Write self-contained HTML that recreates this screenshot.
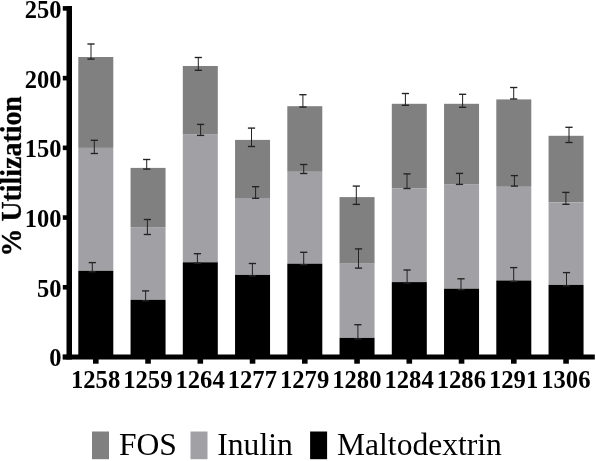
<!DOCTYPE html><html><head><meta charset="utf-8"><style>html,body{margin:0;padding:0;background:#fff;}svg{display:block;}text{font-family:"Liberation Serif","Times New Roman",serif;}</style></head><body>
<svg width="596" height="461" viewBox="0 0 596 461">
<rect width="596" height="461" fill="#fff"/>
<rect x="78.30" y="57.0" width="35.0" height="90.90" fill="#808080"/>
<rect x="78.30" y="147.9" width="35.0" height="122.90" fill="#a1a0a5"/>
<rect x="78.30" y="270.8" width="35.0" height="84.70" fill="#000000"/>
<rect x="130.55" y="167.9" width="35.0" height="59.20" fill="#808080"/>
<rect x="130.55" y="227.1" width="35.0" height="72.70" fill="#a1a0a5"/>
<rect x="130.55" y="299.8" width="35.0" height="55.70" fill="#000000"/>
<rect x="182.80" y="66.0" width="35.0" height="68.10" fill="#808080"/>
<rect x="182.80" y="134.1" width="35.0" height="128.20" fill="#a1a0a5"/>
<rect x="182.80" y="262.3" width="35.0" height="93.20" fill="#000000"/>
<rect x="235.05" y="139.9" width="35.0" height="58.10" fill="#808080"/>
<rect x="235.05" y="198.0" width="35.0" height="76.90" fill="#a1a0a5"/>
<rect x="235.05" y="274.9" width="35.0" height="80.60" fill="#000000"/>
<rect x="287.30" y="106.2" width="35.0" height="65.60" fill="#808080"/>
<rect x="287.30" y="171.8" width="35.0" height="91.90" fill="#a1a0a5"/>
<rect x="287.30" y="263.7" width="35.0" height="91.80" fill="#000000"/>
<rect x="339.55" y="197.1" width="35.0" height="66.60" fill="#808080"/>
<rect x="339.55" y="263.7" width="35.0" height="74.20" fill="#a1a0a5"/>
<rect x="339.55" y="337.9" width="35.0" height="17.60" fill="#000000"/>
<rect x="391.80" y="103.8" width="35.0" height="84.40" fill="#808080"/>
<rect x="391.80" y="188.2" width="35.0" height="93.90" fill="#a1a0a5"/>
<rect x="391.80" y="282.1" width="35.0" height="73.40" fill="#000000"/>
<rect x="444.05" y="103.8" width="35.0" height="80.30" fill="#808080"/>
<rect x="444.05" y="184.1" width="35.0" height="104.60" fill="#a1a0a5"/>
<rect x="444.05" y="288.7" width="35.0" height="66.80" fill="#000000"/>
<rect x="496.30" y="99.4" width="35.0" height="87.40" fill="#808080"/>
<rect x="496.30" y="186.8" width="35.0" height="93.70" fill="#a1a0a5"/>
<rect x="496.30" y="280.5" width="35.0" height="75.00" fill="#000000"/>
<rect x="548.55" y="135.8" width="35.0" height="66.50" fill="#808080"/>
<rect x="548.55" y="202.3" width="35.0" height="82.60" fill="#a1a0a5"/>
<rect x="548.55" y="284.9" width="35.0" height="70.60" fill="#000000"/>
<rect x="90.50" y="44.00" width="1.0" height="15.10" fill="#222222"/><rect x="87.40" y="43.33" width="7.2" height="1.35" fill="#222222"/><rect x="87.40" y="58.43" width="7.2" height="1.35" fill="#222222"/>
<rect x="93.80" y="140.30" width="1.0" height="13.20" fill="#222222"/><rect x="90.70" y="139.62" width="7.2" height="1.35" fill="#222222"/><rect x="90.70" y="152.82" width="7.2" height="1.35" fill="#222222"/>
<rect x="91.80" y="262.60" width="1.0" height="9.18" fill="#222222"/><rect x="88.70" y="261.93" width="7.2" height="1.35" fill="#222222"/><rect x="88.70" y="271.10" width="7.2" height="1.35" fill="#222222"/>
<rect x="146.20" y="159.50" width="1.0" height="9.60" fill="#222222"/><rect x="143.10" y="158.82" width="7.2" height="1.35" fill="#222222"/><rect x="143.10" y="168.42" width="7.2" height="1.35" fill="#222222"/>
<rect x="146.90" y="219.50" width="1.0" height="15.00" fill="#222222"/><rect x="143.80" y="218.82" width="7.2" height="1.35" fill="#222222"/><rect x="143.80" y="233.82" width="7.2" height="1.35" fill="#222222"/>
<rect x="145.10" y="290.90" width="1.0" height="9.88" fill="#222222"/><rect x="142.00" y="290.22" width="7.2" height="1.35" fill="#222222"/><rect x="142.00" y="300.10" width="7.2" height="1.35" fill="#222222"/>
<rect x="197.80" y="57.50" width="1.0" height="12.80" fill="#222222"/><rect x="194.70" y="56.83" width="7.2" height="1.35" fill="#222222"/><rect x="194.70" y="69.62" width="7.2" height="1.35" fill="#222222"/>
<rect x="200.10" y="124.40" width="1.0" height="11.00" fill="#222222"/><rect x="197.00" y="123.73" width="7.2" height="1.35" fill="#222222"/><rect x="197.00" y="134.72" width="7.2" height="1.35" fill="#222222"/>
<rect x="196.90" y="253.70" width="1.0" height="9.58" fill="#222222"/><rect x="193.80" y="253.02" width="7.2" height="1.35" fill="#222222"/><rect x="193.80" y="262.60" width="7.2" height="1.35" fill="#222222"/>
<rect x="251.00" y="128.10" width="1.0" height="18.40" fill="#222222"/><rect x="247.90" y="127.42" width="7.2" height="1.35" fill="#222222"/><rect x="247.90" y="145.82" width="7.2" height="1.35" fill="#222222"/>
<rect x="255.10" y="186.70" width="1.0" height="11.60" fill="#222222"/><rect x="252.00" y="186.02" width="7.2" height="1.35" fill="#222222"/><rect x="252.00" y="197.62" width="7.2" height="1.35" fill="#222222"/>
<rect x="251.90" y="263.50" width="1.0" height="12.38" fill="#222222"/><rect x="248.80" y="262.82" width="7.2" height="1.35" fill="#222222"/><rect x="248.80" y="275.20" width="7.2" height="1.35" fill="#222222"/>
<rect x="302.40" y="94.70" width="1.0" height="12.40" fill="#222222"/><rect x="299.30" y="94.03" width="7.2" height="1.35" fill="#222222"/><rect x="299.30" y="106.42" width="7.2" height="1.35" fill="#222222"/>
<rect x="303.20" y="164.50" width="1.0" height="9.00" fill="#222222"/><rect x="300.10" y="163.82" width="7.2" height="1.35" fill="#222222"/><rect x="300.10" y="172.82" width="7.2" height="1.35" fill="#222222"/>
<rect x="303.20" y="252.30" width="1.0" height="12.38" fill="#222222"/><rect x="300.10" y="251.62" width="7.2" height="1.35" fill="#222222"/><rect x="300.10" y="264.00" width="7.2" height="1.35" fill="#222222"/>
<rect x="355.80" y="186.10" width="1.0" height="18.30" fill="#222222"/><rect x="352.70" y="185.42" width="7.2" height="1.35" fill="#222222"/><rect x="352.70" y="203.72" width="7.2" height="1.35" fill="#222222"/>
<rect x="358.00" y="248.90" width="1.0" height="19.20" fill="#222222"/><rect x="354.90" y="248.22" width="7.2" height="1.35" fill="#222222"/><rect x="354.90" y="267.43" width="7.2" height="1.35" fill="#222222"/>
<rect x="357.40" y="324.70" width="1.0" height="14.18" fill="#222222"/><rect x="354.30" y="324.02" width="7.2" height="1.35" fill="#222222"/><rect x="354.30" y="338.20" width="7.2" height="1.35" fill="#222222"/>
<rect x="404.90" y="93.50" width="1.0" height="11.80" fill="#222222"/><rect x="401.80" y="92.83" width="7.2" height="1.35" fill="#222222"/><rect x="401.80" y="104.62" width="7.2" height="1.35" fill="#222222"/>
<rect x="406.50" y="173.90" width="1.0" height="14.60" fill="#222222"/><rect x="403.40" y="173.22" width="7.2" height="1.35" fill="#222222"/><rect x="403.40" y="187.82" width="7.2" height="1.35" fill="#222222"/>
<rect x="406.60" y="270.00" width="1.0" height="13.08" fill="#222222"/><rect x="403.50" y="269.32" width="7.2" height="1.35" fill="#222222"/><rect x="403.50" y="282.40" width="7.2" height="1.35" fill="#222222"/>
<rect x="462.10" y="94.30" width="1.0" height="13.00" fill="#222222"/><rect x="459.00" y="93.62" width="7.2" height="1.35" fill="#222222"/><rect x="459.00" y="106.62" width="7.2" height="1.35" fill="#222222"/>
<rect x="459.00" y="173.40" width="1.0" height="11.00" fill="#222222"/><rect x="455.90" y="172.72" width="7.2" height="1.35" fill="#222222"/><rect x="455.90" y="183.72" width="7.2" height="1.35" fill="#222222"/>
<rect x="460.50" y="278.80" width="1.0" height="10.88" fill="#222222"/><rect x="457.40" y="278.12" width="7.2" height="1.35" fill="#222222"/><rect x="457.40" y="289.00" width="7.2" height="1.35" fill="#222222"/>
<rect x="513.20" y="87.50" width="1.0" height="11.50" fill="#222222"/><rect x="510.10" y="86.83" width="7.2" height="1.35" fill="#222222"/><rect x="510.10" y="98.33" width="7.2" height="1.35" fill="#222222"/>
<rect x="513.90" y="175.60" width="1.0" height="10.50" fill="#222222"/><rect x="510.80" y="174.92" width="7.2" height="1.35" fill="#222222"/><rect x="510.80" y="185.42" width="7.2" height="1.35" fill="#222222"/>
<rect x="513.20" y="267.60" width="1.0" height="13.88" fill="#222222"/><rect x="510.10" y="266.93" width="7.2" height="1.35" fill="#222222"/><rect x="510.10" y="280.80" width="7.2" height="1.35" fill="#222222"/>
<rect x="568.50" y="127.30" width="1.0" height="15.20" fill="#222222"/><rect x="565.40" y="126.62" width="7.2" height="1.35" fill="#222222"/><rect x="565.40" y="141.82" width="7.2" height="1.35" fill="#222222"/>
<rect x="565.40" y="192.40" width="1.0" height="11.90" fill="#222222"/><rect x="562.30" y="191.72" width="7.2" height="1.35" fill="#222222"/><rect x="562.30" y="203.62" width="7.2" height="1.35" fill="#222222"/>
<rect x="566.00" y="272.60" width="1.0" height="13.27" fill="#222222"/><rect x="562.90" y="271.93" width="7.2" height="1.35" fill="#222222"/><rect x="562.90" y="285.20" width="7.2" height="1.35" fill="#222222"/>
<rect x="66.5" y="6" width="5.5" height="353.5" fill="#000"/>
<rect x="62.8" y="354.5" width="532" height="5" fill="#000"/>
<rect x="62.8" y="354.70" width="5" height="4.6" fill="#000"/>
<text transform="translate(61.4,366.40) scale(1,1.05)" font-size="24.5" font-weight="bold" stroke="#000" stroke-width="0" text-anchor="end">0</text>
<rect x="62.8" y="284.98" width="5" height="4.6" fill="#000"/>
<text transform="translate(61.4,296.68) scale(1,1.05)" font-size="24.5" font-weight="bold" stroke="#000" stroke-width="0" text-anchor="end">50</text>
<rect x="62.8" y="215.26" width="5" height="4.6" fill="#000"/>
<text transform="translate(61.4,226.96) scale(1,1.05)" font-size="24.5" font-weight="bold" stroke="#000" stroke-width="0" text-anchor="end">100</text>
<rect x="62.8" y="145.54" width="5" height="4.6" fill="#000"/>
<text transform="translate(61.4,157.24) scale(1,1.05)" font-size="24.5" font-weight="bold" stroke="#000" stroke-width="0" text-anchor="end">150</text>
<rect x="62.8" y="75.82" width="5" height="4.6" fill="#000"/>
<text transform="translate(61.4,87.52) scale(1,1.05)" font-size="24.5" font-weight="bold" stroke="#000" stroke-width="0" text-anchor="end">200</text>
<rect x="62.8" y="6.10" width="5" height="4.6" fill="#000"/>
<text transform="translate(61.4,17.80) scale(1,1.05)" font-size="24.5" font-weight="bold" stroke="#000" stroke-width="0" text-anchor="end">250</text>
<rect x="93.00" y="358" width="5.6" height="5.7" fill="#000"/>
<text transform="translate(95.60,388) scale(1,1.0)" font-size="24.6" font-weight="bold" stroke="#000" stroke-width="0" text-anchor="middle">1258</text>
<rect x="145.25" y="358" width="5.6" height="5.7" fill="#000"/>
<text transform="translate(147.85,388) scale(1,1.0)" font-size="24.6" font-weight="bold" stroke="#000" stroke-width="0" text-anchor="middle">1259</text>
<rect x="197.50" y="358" width="5.6" height="5.7" fill="#000"/>
<text transform="translate(200.10,388) scale(1,1.0)" font-size="24.6" font-weight="bold" stroke="#000" stroke-width="0" text-anchor="middle">1264</text>
<rect x="249.75" y="358" width="5.6" height="5.7" fill="#000"/>
<text transform="translate(252.35,388) scale(1,1.0)" font-size="24.6" font-weight="bold" stroke="#000" stroke-width="0" text-anchor="middle">1277</text>
<rect x="302.00" y="358" width="5.6" height="5.7" fill="#000"/>
<text transform="translate(304.60,388) scale(1,1.0)" font-size="24.6" font-weight="bold" stroke="#000" stroke-width="0" text-anchor="middle">1279</text>
<rect x="354.25" y="358" width="5.6" height="5.7" fill="#000"/>
<text transform="translate(356.85,388) scale(1,1.0)" font-size="24.6" font-weight="bold" stroke="#000" stroke-width="0" text-anchor="middle">1280</text>
<rect x="406.50" y="358" width="5.6" height="5.7" fill="#000"/>
<text transform="translate(409.10,388) scale(1,1.0)" font-size="24.6" font-weight="bold" stroke="#000" stroke-width="0" text-anchor="middle">1284</text>
<rect x="458.75" y="358" width="5.6" height="5.7" fill="#000"/>
<text transform="translate(461.35,388) scale(1,1.0)" font-size="24.6" font-weight="bold" stroke="#000" stroke-width="0" text-anchor="middle">1286</text>
<rect x="511.00" y="358" width="5.6" height="5.7" fill="#000"/>
<text transform="translate(513.60,388) scale(1,1.0)" font-size="24.6" font-weight="bold" stroke="#000" stroke-width="0" text-anchor="middle">1291</text>
<rect x="563.25" y="358" width="5.6" height="5.7" fill="#000"/>
<text transform="translate(565.85,388) scale(1,1.0)" font-size="24.6" font-weight="bold" stroke="#000" stroke-width="0" text-anchor="middle">1306</text>
<text transform="translate(20.5,176.3) rotate(-90) scale(1,1.08)" font-size="27.9" font-weight="bold" stroke="#000" stroke-width="0.3" text-anchor="middle">% Utilization</text>
<rect x="92" y="431.5" width="17" height="27.7" fill="#808080"/>
<text transform="translate(119,455.4) scale(1,0.98)" font-size="31.6">FOS</text>
<rect x="190.5" y="431.5" width="17" height="27.7" fill="#a1a0a5"/>
<text transform="translate(217.3,455.4) scale(1,0.98)" font-size="31.6">Inulin</text>
<rect x="310.1" y="431.5" width="17" height="27.7" fill="#000000"/>
<text transform="translate(337,455.4) scale(1,0.98)" font-size="31.6">Maltodextrin</text>
</svg></body></html>
